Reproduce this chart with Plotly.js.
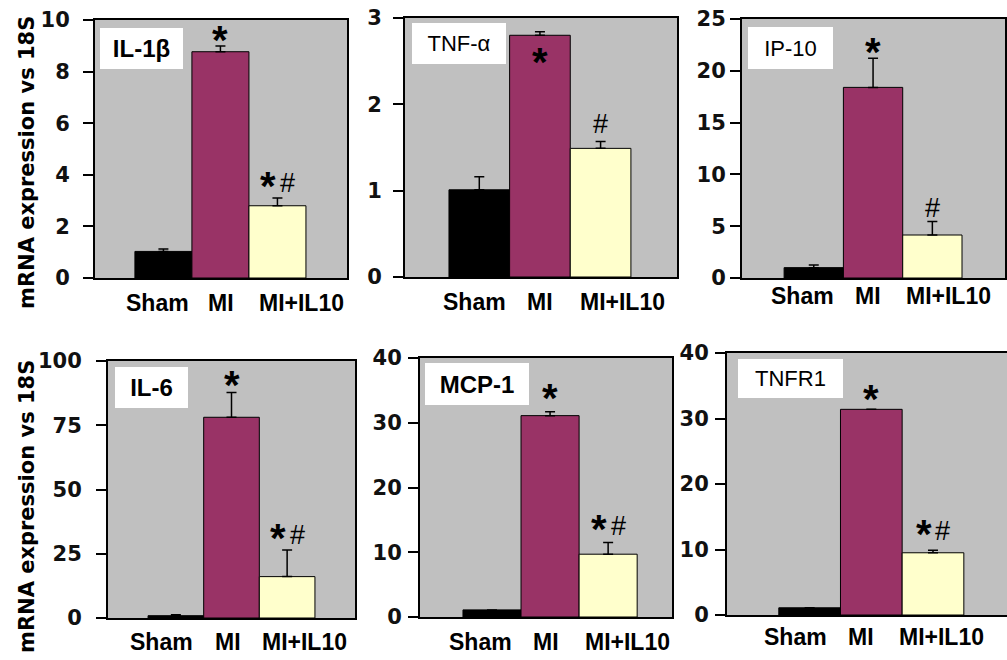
<!DOCTYPE html>
<html><head><meta charset="utf-8">
<script src="https://cdn.plot.ly/plotly-3.0.1.min.js"></script>
<style>html,body{margin:0;padding:0;background:#fff;overflow:hidden}</style>
</head><body><div id="chart" style="width:1007px;height:660px"></div>
<script>
// ---------- data ----------
const groups = ["Sham", "MI", "MI+IL10"];
const il1bMean  = [1.03, 8.77, 2.80];  const il1bErr  = [0.09, 0.22, 0.30];
const tnfaMean  = [1.01, 2.80, 1.49];  const tnfaErr  = [0.15, 0.04, 0.08];
const ip10Mean  = [1.0, 18.4, 4.15];   const ip10Err  = [0.25, 2.8, 1.3];
const il6Mean   = [0.9, 78.1, 16.1];   const il6Err   = [0.4, 9.6, 10.4];
const mcp1Mean  = [1.1, 31.1, 9.7];    const mcp1Err  = [0, 0.6, 1.8];
const tnfr1Mean = [1.1, 31.4, 9.5];    const tnfr1Err = [0, 0, 0.4];
const panelNames = ["IL-1β", "TNF-α", "IP-10", "IL-6", "MCP-1", "TNFR1"];
const yTickVals = [[0,2,4,6,8,10],[0,1,2,3],[0,5,10,15,20,25],[0,25,50,75,100],[0,10,20,30,40],[0,10,20,30,40]];
const yRanges = [[0,10],[0,3],[0,25],[0,100],[0,40],[0,40]];
const sigMarks = [["","*","*#"],["","*","#"],["","*","#"],["","*","*#"],["","*","*#"],["","*","*#"]];
const yTitle = "mRNA expression vs 18S";
const barColors = ["#000000", "#993366", "#FFFFCC"];

// ---------- layout geometry (pixels) ----------
const W = 1007, H = 660;
const px = v => v / W, py = v => 1 - v / H;
const means = [il1bMean, tnfaMean, ip10Mean, il6Mean, mcp1Mean, tnfr1Mean];
const errs  = [il1bErr, tnfaErr, ip10Err, il6Err, mcp1Err, tnfr1Err];
const geo = [
  {l:95,  r:347,  t:20,  b:278, xr:[-1.2,3.22],  bold:true,  box:[100,183,28,69],  lab:[-5.5,1,24.5],  labY:303, sd:9,  sig:[0,10,16]},
  {l:405, r:677,  t:18,  b:277, xr:[-1.225,3.26],bold:false, box:[412,506,23,64],  lab:[-4.5,0.5,21.5], labY:302, sd:7, sig:[0,-23,18], inside:true},
  {l:742, r:1005, t:19,  b:278, xr:[-1.21,3.225],bold:false, box:[748,833,27,69],  lab:[-11,-5.5,16.5], labY:296, sd:0, sig:[0,10,15]},
  {l:108, r:355,  t:361, b:618, xr:[-1.22,3.22], bold:true,  box:[115,188,367,408],lab:[-14.5,-4,17],  labY:642, sd:10, sig:[0,12,16]},
  {l:420, r:672,  t:358, b:617, xr:[-1.24,3.1],  bold:true,  box:[425,529,363,405],lab:[-11.5,-4,19.5],labY:642, sd:2,  sig:[0,18,18]},
  {l:727, r:1007, t:353, b:615, xr:[-1.34,3.2],  bold:false, box:[738,843,359,398],lab:[-14.5,-10,9],  labY:637, sd:2,  sig:[0,14,20], noRight:true}
];

const traces = [], annotations = [];
const layout = {
  width: W, height: H, margin: {l:0, r:0, t:0, b:0},
  paper_bgcolor: "#ffffff", plot_bgcolor: "#C0C0C0",
  showlegend: false, bargap: 0, annotations: annotations
};

geo.forEach((g, i) => {
  const n = i + 1, xa = "x" + (n === 1 ? "" : n), ya = "y" + (n === 1 ? "" : n);
  const xIdx = groups.map((_, k) => k);
  traces.push({
    type: "bar", x: xIdx, y: means[i], width: 1, xaxis: xa, yaxis: ya,
    marker: {color: barColors, line: {color: "#000", width: 1}},
    error_y: {type: "data", symmetric: false, array: errs[i], arrayminus: errs[i].map(() => 0),
              color: "#000", thickness: 1.5, width: 5},
    hoverinfo: "skip"
  });
  layout["xaxis" + (n === 1 ? "" : n)] = {
    domain: [px(g.l), px(g.r)], range: g.xr, anchor: ya,
    showline: true, linecolor: "#000", linewidth: 2, mirror: true,
    showgrid: false, zeroline: false, ticks: "", showticklabels: false, fixedrange: true
  };
  layout["yaxis" + (n === 1 ? "" : n)] = {
    domain: [py(g.b), py(g.t)], range: yRanges[i], anchor: xa,
    showline: true, linecolor: "#000", linewidth: 2, mirror: g.noRight ? false : true,
    showgrid: false, zeroline: false, ticks: "outside", ticklen: 10, tickwidth: 2, tickcolor: "#000",
    tickvals: yTickVals[i], ticklabelstandoff: g.sd,
    tickfont: {family: "DejaVu Sans", size: 21, color: "#111", weight: "bold"}, fixedrange: true
  };
  // panel name box
  annotations.push({
    xref: "paper", yref: "paper", x: px(g.box[0]), y: py(g.box[2]), xanchor: "left", yanchor: "top",
    width: g.box[1] - g.box[0], height: g.box[3] - g.box[2], borderpad: 0, borderwidth: 0,
    bgcolor: "#ffffff", showarrow: false, align: "center", valign: "middle",
    text: g.bold ? "<b>" + panelNames[i] + "</b>" : panelNames[i],
    font: {family: "Liberation Sans, Arial", size: g.bold ? 24 : 22, color: "#000"}
  });
  // category labels
  groups.forEach((name, k) => {
    annotations.push({
      xref: xa, yref: "paper", x: k, y: py(g.labY), xshift: g.lab[k], xanchor: "center", yanchor: "middle",
      showarrow: false, text: "<b>" + name + "</b>",
      font: {family: "Liberation Sans, Arial", size: 23, color: "#000"}
    });
  });
  // significance marks
  sigMarks[i].forEach((mark, k) => {
    if (!mark) return;
    const top = g.inside && k === 1 ? means[i][k] : means[i][k] + errs[i][k];
    const chars = mark.split("");
    chars.forEach(ch => {
      const xs = chars.length > 1 ? (ch === "*" ? -9 : 10) : 0;
      const isStar = ch === "*";
      const fs = isStar ? 40 : 27;
      annotations.push({
        xref: xa, yref: ya, x: k, y: top, xshift: xs, yshift: g.sig[k] - (isStar ? 4 : 1),
        xanchor: "center", yanchor: "middle", showarrow: false,
        text: isStar ? "<b>*</b>" : "#",
        font: {family: "Liberation Sans, Arial", size: fs, color: "#000"}
      });
    });
  });
});

// shared y-axis titles
[163, 507].forEach(yc => {
  annotations.push({
    xref: "paper", yref: "paper", x: px(27), y: py(yc), xanchor: "center", yanchor: "middle",
    textangle: -90, showarrow: false, text: "<b>" + yTitle + "</b>",
    font: {family: "DejaVu Sans", size: 21, color: "#000"}
  });
});

Plotly.newPlot("chart", traces, layout, {displayModeBar: false, staticPlot: true});
</script></body></html>
